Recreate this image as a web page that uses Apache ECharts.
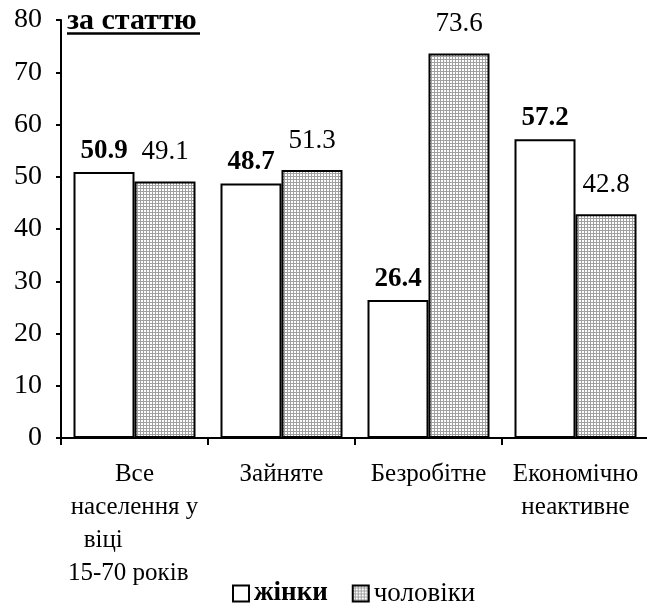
<!DOCTYPE html>
<html>
<head>
<meta charset="utf-8">
<script src="https://cdn.jsdelivr.net/npm/echarts@6/dist/echarts.min.js"></script>
<style>
html,body{margin:0;padding:0;background:#fff;}
#chart{width:647px;height:608px;}
</style>
</head>
<body>
<div id="chart"></div>
<script>
const categories = ['Все\nнаселення у\nвіці          \n15-70 років  ', 'Зайняте', 'Безробітне', 'Економічно\nнеактивне'];
const women = [50.9, 48.7, 26.4, 57.2];
const men = [49.1, 51.3, 73.6, 42.8];
const seriesNames = ['жінки', 'чоловіки'];
const yTicks = [0, 10, 20, 30, 40, 50, 60, 70, 80];
const titleText = 'за статтю';

const FONT = 'Liberation Serif';

function makeHatch() {
  const c = document.createElement('canvas');
  c.width = 3; c.height = 3;
  const ctx = c.getContext('2d');
  ctx.fillStyle = '#ffffff';
  ctx.fillRect(0, 0, 3, 3);
  ctx.fillStyle = '#a0a0a0';
  ctx.fillRect(2, 0, 1, 3);
  ctx.fillRect(0, 2, 3, 1);
  return c;
}
const hatch = { image: makeHatch(), repeat: 'repeat' };

const chart = echarts.init(document.getElementById('chart'), null, { renderer: 'canvas' });
chart.setOption({
  animation: false,
  backgroundColor: '#fff',
  textStyle: { fontFamily: FONT, color: '#000' },
  grid: { left: 61, top: 20, width: 588, height: 418, containLabel: false, outerBoundsMode: 'none' },
  graphic: [
    { type: 'text', left: 67, top: 6, style: { text: titleText, fontFamily: FONT, fontSize: 30, fontWeight: 'bold', fill: '#000' } },
    { type: 'line', shape: { x1: 67, y1: 33.5, x2: 200, y2: 33.5 }, style: { stroke: '#000', lineWidth: 2.5 } }
  ],
  legend: {
    top: 580, left: 232, padding: 0,
    icon: 'rect',
    itemWidth: 16, itemHeight: 16, itemGap: 24,
    data: seriesNames,
    textStyle: {
      fontFamily: FONT, fontSize: 27, color: '#000',
      rich: {
        b: { fontFamily: FONT, fontSize: 27, fontWeight: 'bold', color: '#000' },
        n: { fontFamily: FONT, fontSize: 27, color: '#000' }
      }
    },
    formatter: function (name) { return name === seriesNames[0] ? '{b|' + name + '}' : '{n|' + name + '}'; }
  },
  xAxis: {
    type: 'category',
    data: categories,
    axisLine: { lineStyle: { color: '#000', width: 2 } },
    axisTick: { show: true, alignWithLabel: false, length: 7, lineStyle: { color: '#000', width: 2 } },
    axisLabel: { color: '#000', fontFamily: FONT, fontSize: 25, lineHeight: 33, margin: 20, interval: 0 },
    splitLine: { show: false }
  },
  yAxis: {
    type: 'value', min: yTicks[0], max: yTicks[yTicks.length - 1], interval: 10,
    axisLine: { show: true, lineStyle: { color: '#000', width: 2 } },
    axisTick: { show: true, length: 5, lineStyle: { color: '#000', width: 2 } },
    axisLabel: { color: '#000', fontFamily: FONT, fontSize: 28, margin: 19 },
    splitLine: { show: false }
  },
  series: [
    {
      name: seriesNames[0], type: 'bar', data: women, barWidth: 61, barGap: '0%',
      itemStyle: { color: '#fff', borderColor: '#000', borderWidth: 2 },
      label: { show: true, position: 'top', distance: 8, fontFamily: FONT, fontSize: 27, fontWeight: 'bold', color: '#000',
        formatter: p => p.value.toFixed(1) }
    },
    {
      name: seriesNames[1], type: 'bar', data: men, barWidth: 61,
      itemStyle: { color: hatch, borderColor: '#000', borderWidth: 2 },
      label: { show: true, position: 'top', distance: 16, fontFamily: FONT, fontSize: 27, color: '#000',
        formatter: p => p.value.toFixed(1) }
    }
  ]
});
</script>
</body>
</html>
